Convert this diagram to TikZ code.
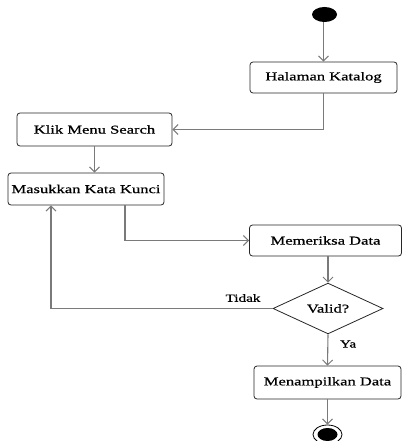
\documentclass[tikz,border=0pt]{standalone}
\usepackage{fontspec}
\setmainfont[FakeStretch=1.38,FakeBold=0.6]{Liberation Serif}
\usetikzlibrary{arrows.meta,shapes.geometric}
\definecolor{flowline}{HTML}{7A7A7A}
\tikzset{
  action/.style={draw=black!85, line width=0.8pt, rounded corners=3pt,
    fill=white, inner sep=0pt, font=\fontsize{12}{14}\selectfont},
  decision/.style={diamond, draw=black!85, line width=0.8pt, fill=white,
    inner sep=0pt, minimum width=110pt, minimum height=41pt,
    font=\fontsize{12}{14}\selectfont},
  flow/.style={draw=flowline, line width=1.1pt,
    -{Straight Barb[length=5pt,width=10pt,line width=1pt]}},
  guard/.style={font=\fontsize{11}{13}\selectfont, inner sep=0pt},
}
\begin{document}
\begin{tikzpicture}[x=1pt,y=-1pt]
\useasboundingbox (0,0) rectangle (403,441);

% initial and final states
\node[ellipse, fill=black, minimum width=25pt, minimum height=15pt, inner sep=0pt] (start) at (324.5,14.5) {};
\node[ellipse, draw=black, line width=0.8pt, fill=white, minimum width=29pt, minimum height=19pt, inner sep=0pt] (stop) at (327.5,434.5) {};
\node[ellipse, fill=black, minimum width=20pt, minimum height=13pt, inner sep=0pt] (stopdot) at (stop.center) {};

% activities
\node[action, minimum width=147pt, minimum height=31pt] (katalog) at (323.5,77.5) {Halaman Katalog};
\node[action, minimum width=155pt, minimum height=33pt] (klik) at (94.5,129.5) {Klik Menu Search};
\node[action, minimum width=156pt, minimum height=32pt] (kunci) at (86,189) {Masukkan Kata Kunci};
\node[action, minimum width=152pt, minimum height=31pt] (periksa) at (325.5,240.5) {Memeriksa Data};
\node[decision] (valid) at (328,308.5) {Valid?};
\node[action, minimum width=147pt, minimum height=33pt] (tampil) at (327.5,382.5) {Menampilkan Data};

% guard labels
\node[guard] (tidak) at (243,298) {Tidak};
\node[guard] (ya) at (348,344) {Ya};

% control flow
\draw[flow] (start.south -| katalog.north) -- (katalog.north);
\draw[flow] (katalog.south) |- (klik.east);
\draw[flow] (klik.south) -- (klik.south |- kunci.north);
\draw[flow] ([xshift=39pt]kunci.south) |- (periksa.west);
\draw[flow] (periksa.south -| valid.north) -- (valid.north);
\draw[flow] (valid.west) -| ([xshift=-35pt]kunci.south);
\draw[flow] (valid.south) -- (tampil.south |- tampil.north);
\draw[flow] (tampil.south) -- (stop.north);
\end{tikzpicture}
\end{document}
